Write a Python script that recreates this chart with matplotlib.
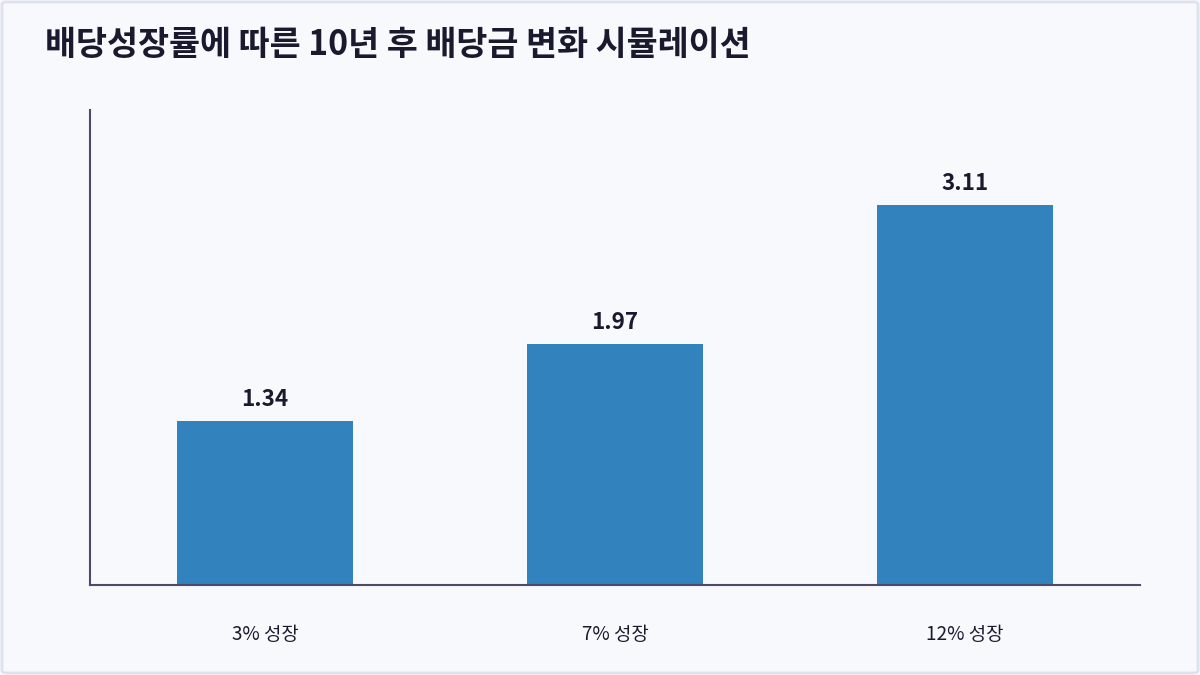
import matplotlib
matplotlib.use("Agg")
import matplotlib.pyplot as plt
from matplotlib.patches import FancyBboxPatch

plt.rcParams['font.family'] = ['Noto Sans CJK KR', 'DejaVu Sans']

title = "배당성장률에 따른 10년 후 배당금 변화 시뮬레이션"
categories = ["3% 성장", "7% 성장", "12% 성장"]
values = [1.34, 1.97, 3.11]

bg = "#f7f9fd"
bar_color = "#3182bd"
text_color = "#1a1a2e"
spine_color = "#4a4a6a"

fig = plt.figure(figsize=(12, 6.75), dpi=100, facecolor=bg)
border = FancyBboxPatch((2 / 1200, 2 / 675), 1196 / 1200, 671 / 675,
                        boxstyle="round,pad=0,rounding_size=0.004",
                        transform=fig.transFigure, facecolor="none",
                        edgecolor="#dde3ec", linewidth=2, zorder=-1)
fig.patches.append(border)

ax = fig.add_axes([90 / 1200, 90 / 675, 1050 / 1200, 475 / 675])
ax.set_facecolor(bg)
x = range(len(categories))
bars = ax.bar(x, values, width=0.503, color=bar_color, zorder=2)
ax.set_xlim(-0.5, len(categories) - 0.5)
ax.set_ylim(0, max(values) * 1.25)
ax.set_xticks(list(x))
ax.set_xticklabels(categories, fontsize=13.6, color=text_color, fontweight="medium")
ax.set_yticks([])
ax.tick_params(axis='x', length=0, pad=28)
for s in ['top', 'right']:
    ax.spines[s].set_visible(False)
for s in ['left', 'bottom']:
    ax.spines[s].set_color(spine_color)
    ax.spines[s].set_linewidth(1.5)

for b, v in zip(bars, values):
    ax.annotate(f"{v:.2f}", (b.get_x() + b.get_width() / 2, v),
                xytext=(0, 10), textcoords="offset pixels",
                ha="center", va="bottom", fontsize=16.2, fontweight="bold",
                color=text_color)

fig.text(45 / 1200, 1 - 45 / 675, title, fontsize=24.3, fontweight="bold",
         color=text_color, ha="left", va="center")

fig.savefig("out.png", dpi=100, facecolor=bg)
